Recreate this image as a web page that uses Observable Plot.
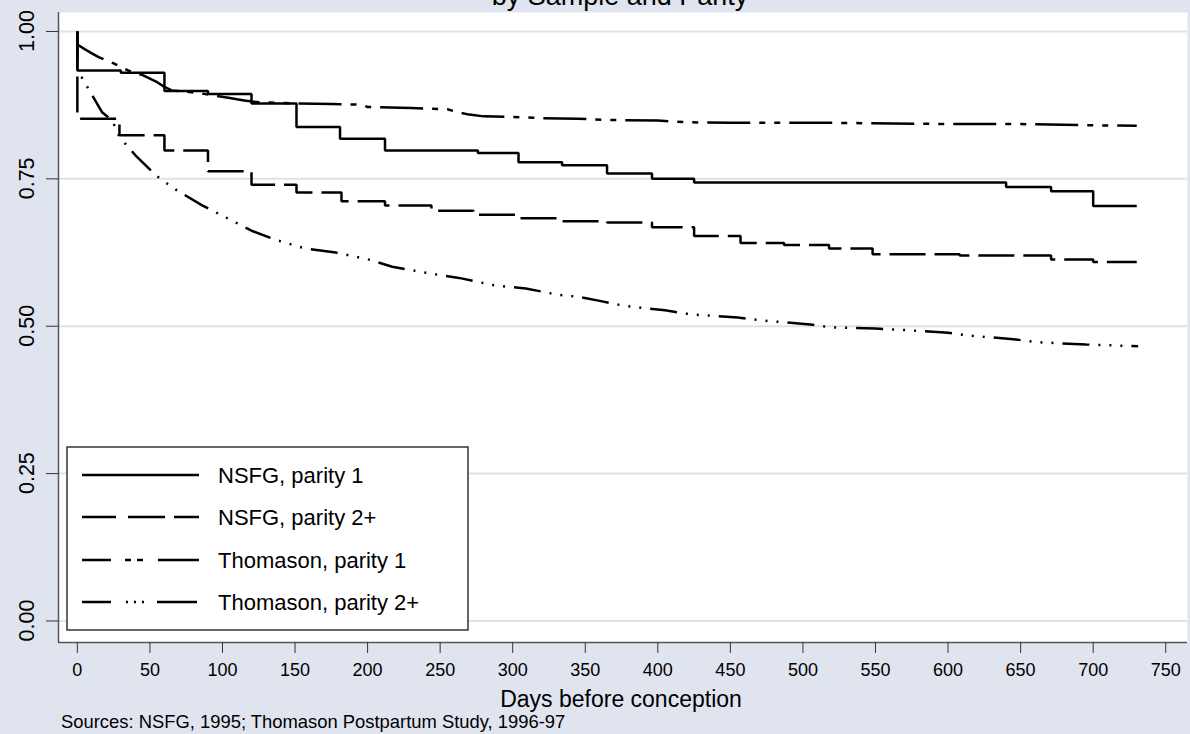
<!DOCTYPE html>
<html>
<head>
<meta charset="utf-8">
<script src="https://cdn.jsdelivr.net/npm/d3@7"></script>
<script src="https://cdn.jsdelivr.net/npm/@observablehq/plot@0.6"></script>
<style>
  html, body { margin: 0; padding: 0; background: #e0e4ef; }
  #wrap { position: relative; width: 1190px; height: 734px; overflow: hidden; background: #e0e4ef; }
  #wrap svg { display: block; }
</style>
</head>
<body>
<div id="wrap"></div>
<script>
// ---------- data ----------
const titleText = "by Sample and Parity";
const xAxisTitle = "Days before conception";
const captionText = "Sources: NSFG, 1995; Thomason Postpartum Study, 1996-97";

const xTicks = [0, 50, 100, 150, 200, 250, 300, 350, 400, 450, 500, 550, 600, 650, 700, 750];
const yTicks = [0, 0.25, 0.5, 0.75, 1];
const yTickLabels = ["0.00", "0.25", "0.50", "0.75", "1.00"];

const seriesNames = ["NSFG, parity 1", "NSFG, parity 2+", "Thomason, parity 1", "Thomason, parity 2+"];

const nsfg1Days = [0, 0, 30, 60, 90, 120, 151, 181, 212, 276, 304, 334, 365, 396, 425, 640, 671, 700, 730];
const nsfg1Surv = [1.0, 0.934, 0.930, 0.899, 0.894, 0.878, 0.838, 0.818, 0.798, 0.794, 0.778, 0.773, 0.759, 0.750, 0.744, 0.736, 0.729, 0.704, 0.704];

const nsfg2Days = [0, 0, 29, 60, 90, 120, 151, 182, 212, 244, 273, 304, 334, 365, 396, 425, 457, 487, 518, 548, 608, 671, 700, 730];
const nsfg2Surv = [1.0, 0.852, 0.824, 0.798, 0.763, 0.740, 0.727, 0.712, 0.705, 0.696, 0.689, 0.683, 0.678, 0.676, 0.668, 0.653, 0.641, 0.638, 0.632, 0.622, 0.620, 0.613, 0.609, 0.609];

const thom1Days = [0, 0, 5, 10, 15, 20, 25, 30, 35, 40, 45, 50, 55, 60, 65, 75, 85, 95, 105, 115, 125, 140, 150, 175, 195, 200, 230, 255, 262, 270, 280, 300, 320, 345, 363, 400, 420, 450, 520, 600, 650, 693, 730];
const thom1Surv = [1.0, 0.978, 0.970, 0.963, 0.956, 0.951, 0.946, 0.940, 0.934, 0.929, 0.926, 0.920, 0.914, 0.906, 0.900, 0.898, 0.895, 0.891, 0.887, 0.883, 0.880, 0.879, 0.878, 0.877, 0.876, 0.872, 0.870, 0.868, 0.863, 0.859, 0.856, 0.855, 0.853, 0.852, 0.850, 0.849, 0.846, 0.845, 0.845, 0.843, 0.843, 0.841, 0.840];

const thom2Days = [0, 0, 3, 9, 17, 24, 29, 40, 54, 67, 86, 102, 120, 136, 157, 178, 201, 217, 244, 263, 288, 309, 332, 345, 360, 376, 405, 423, 455, 471, 505, 519, 550, 567, 600, 615, 645, 661, 695, 731];
const thom2Surv = [1.0, 0.930, 0.922, 0.897, 0.863, 0.849, 0.821, 0.790, 0.756, 0.733, 0.705, 0.685, 0.662, 0.647, 0.632, 0.625, 0.613, 0.601, 0.589, 0.582, 0.569, 0.564, 0.553, 0.550, 0.543, 0.535, 0.527, 0.520, 0.515, 0.510, 0.503, 0.498, 0.496, 0.494, 0.489, 0.484, 0.478, 0.473, 0.469, 0.466];

// ---------- build table ----------
const seriesData = [
  [nsfg1Days, nsfg1Surv],
  [nsfg2Days, nsfg2Surv],
  [thom1Days, thom1Surv],
  [thom2Days, thom2Surv]
];
const rows = [];
seriesData.forEach(([days, surv], s) => {
  days.forEach((d, i) => rows.push({series: seriesNames[s], day: d, surv: surv[i]}));
});

// ---------- styles ----------
const lineStyle = {
  "NSFG, parity 1":      {dash: null,               legendDash: null,                          curve: "step-after"},
  "NSFG, parity 2+":     {dash: "36,9",             legendDash: "34,12,37,9,30",               curve: "step-after"},
  "Thomason, parity 1":  {dash: "43,9,6,9,6,9",     legendDash: "29,14,6,6,6,15,42",           curve: "linear"},
  "Thomason, parity 2+": {dash: "27,9,2,9,2,9,2,9", legendDash: "29,15,2,6,2,6,2,13,40",       curve: "linear"}
};
const xDomain = [-13, 765];
const yDomain = [-0.0365, 1.0322];
const fontFamily = "'Liberation Sans', Arial, Helvetica, sans-serif";
const gridColor = "#dde2ee";

const lineMarks = seriesNames.map(name => Plot.line(rows.filter(r => r.series === name), {
  x: "day", y: "surv",
  curve: lineStyle[name].curve,
  stroke: "black",
  strokeWidth: 2.5,
  strokeDasharray: lineStyle[name].dash,
  strokeLinecap: "butt",
  strokeLinejoin: "miter"
}));

const plot = Plot.plot({
  width: 1190,
  height: 734,
  marginLeft: 58,
  marginRight: 3,
  marginTop: 12,
  marginBottom: 92,
  x: {domain: xDomain},
  y: {domain: yDomain},
  style: {background: "transparent", fontFamily, color: "black", overflow: "visible"},
  marks: [
    Plot.frame({fill: "white", stroke: "none"}),
    Plot.gridY(yTicks, {stroke: gridColor, strokeOpacity: 1, strokeWidth: 2}),
    ...lineMarks,
    Plot.ruleX([xDomain[0]], {stroke: "#555", strokeWidth: 1.5}),
    Plot.ruleY([yDomain[0]], {stroke: "#555", strokeWidth: 1.5}),
    Plot.axisX({ticks: xTicks, tickSize: 11, tickPadding: 10, fontSize: 18, label: null, stroke: "#333"}),
    Plot.axisY({ticks: yTicks, tickSize: 12, tickFormat: () => "", label: null, stroke: "#333"})
  ]
});

document.getElementById("wrap").appendChild(plot);

// ---------- annotations: y tick labels, title, axis title, caption, legend ----------
const svg = d3.select(plot);
const yScale = plot.scale("y");

const yLab = svg.append("g")
  .attr("font-family", fontFamily).attr("font-size", 21.5).attr("fill", "black")
  .attr("text-anchor", "middle");
yTicks.forEach((v, i) => {
  yLab.append("text")
    .attr("transform", `translate(34,${yScale.apply(v)}) rotate(-90)`)
    .attr("text-anchor", "middle")
    .text(yTickLabels[i]);
});

svg.append("text")
  .attr("x", 620).attr("y", 5)
  .attr("text-anchor", "middle")
  .attr("font-family", fontFamily).attr("font-size", 27).attr("fill", "black")
  .text(titleText);

svg.append("text")
  .attr("x", 621).attr("y", 707)
  .attr("text-anchor", "middle")
  .attr("font-family", fontFamily).attr("font-size", 23).attr("fill", "black")
  .text(xAxisTitle);

svg.append("text")
  .attr("x", 61).attr("y", 728)
  .attr("text-anchor", "start")
  .attr("font-family", fontFamily).attr("font-size", 18.4).attr("fill", "black")
  .text(captionText);

const legend = svg.append("g").attr("text-anchor", "start");
legend.append("rect")
  .attr("x", 67).attr("y", 447).attr("width", 401).attr("height", 183)
  .attr("fill", "white").attr("stroke", "#333").attr("stroke-width", 1.5);
const rowY = [475, 517, 560, 602];
seriesNames.forEach((name, i) => {
  legend.append("line")
    .attr("x1", 82).attr("x2", 199).attr("y1", rowY[i]).attr("y2", rowY[i])
    .attr("stroke", "black").attr("stroke-width", 2.5)
    .attr("stroke-dasharray", lineStyle[name].legendDash);
  legend.append("text")
    .attr("x", 218).attr("y", rowY[i]).attr("dy", "0.36em")
    .attr("text-anchor", "start")
    .attr("font-family", fontFamily).attr("font-size", 22).attr("fill", "black")
    .text(name);
});
</script>
</body>
</html>
